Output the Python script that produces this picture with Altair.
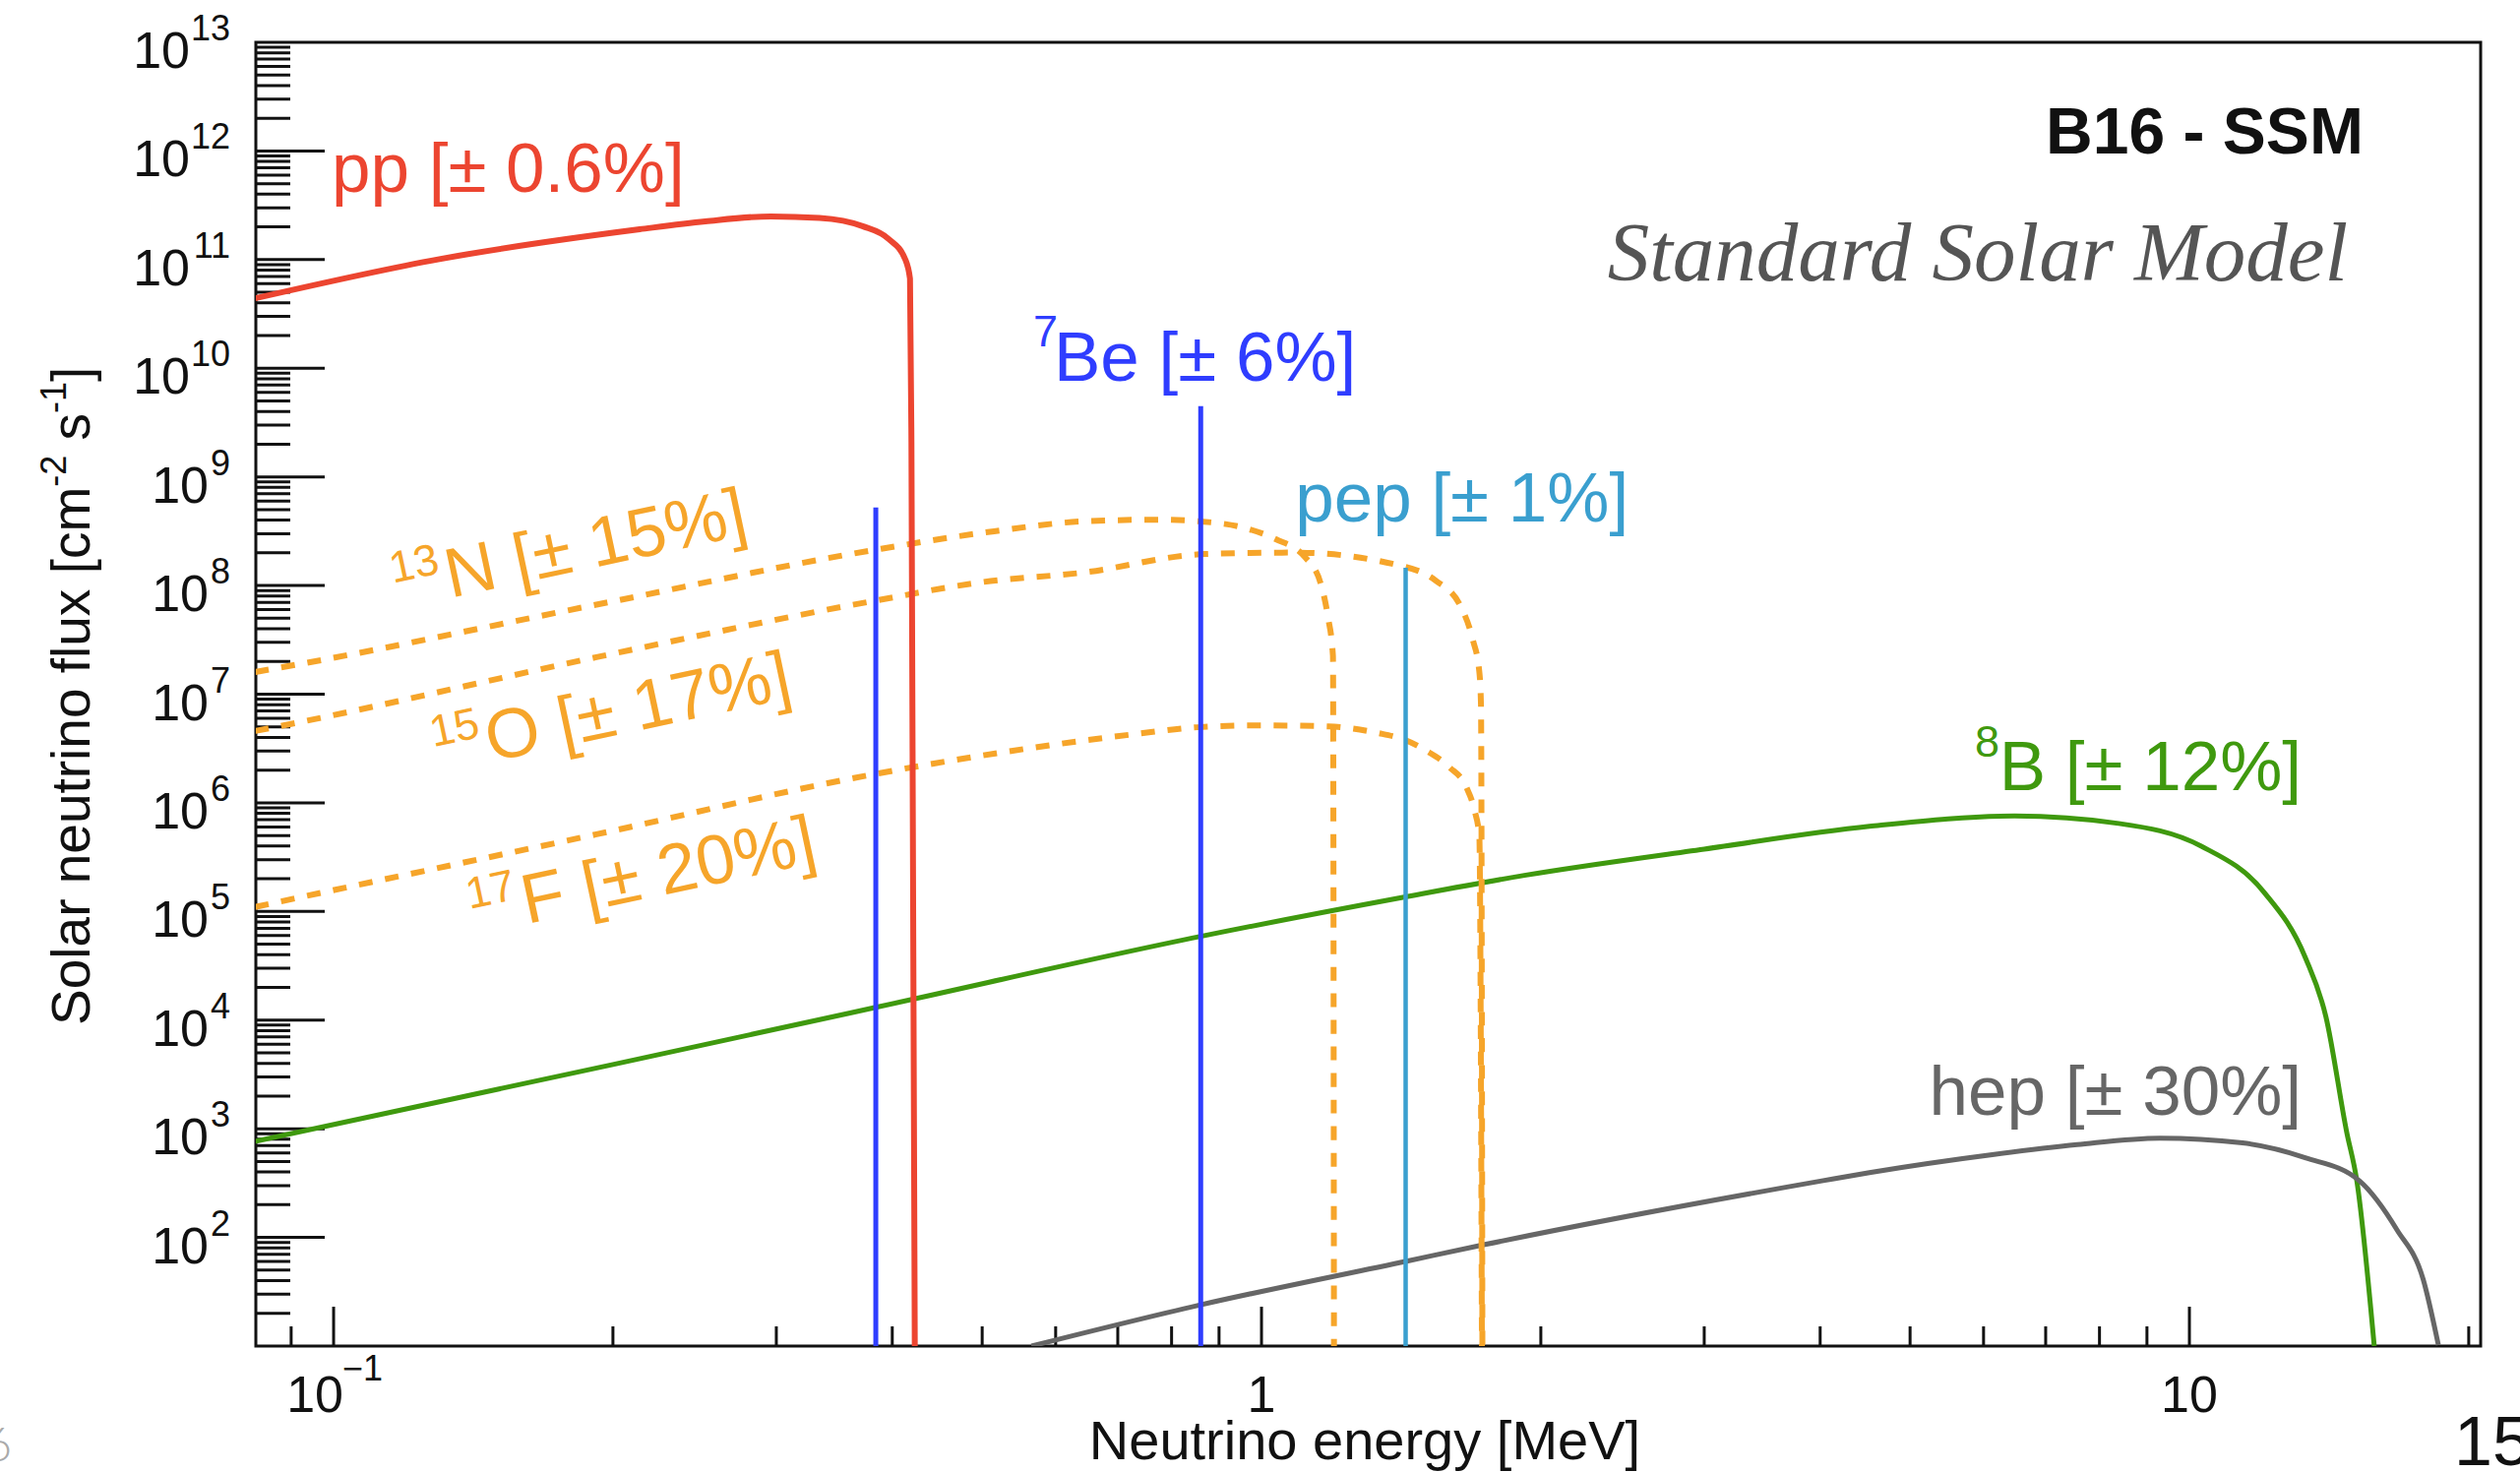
import math
import altair as alt
import pandas as pd

# ---------------- data ----------------
# pp continuum
pp_E = [0.0823, 0.130, 0.2137, 0.2515, 0.296, 0.334, 0.3716, 0.3967, 0.413, 0.418, 0.4195, 0.423]
pp_F = [4.4e10, 1.01e11, 1.90e11, 2.25e11, 2.50e11, 2.42e11, 2.03e11, 1.54e11, 1.01e11, 6.68e10, 2.07e9, 10]
# 8B continuum
b8_E = [0.0823, 0.2, 0.384, 0.86, 1.42, 1.92, 3.0, 4.52, 6.48, 8.39, 10.3, 12.03, 13.33, 14.03, 14.77, 15.15, 15.82]
b8_F = [766, 3.9e3, 1.31e4, 5.9e4, 1.35e5, 2.15e5, 3.75e5, 6.07e5, 7.57e5, 6.46e5, 3.99e5, 1.51e5, 3.78e4, 1.08e4, 944, 333, 10]
# hep continuum
hep_E = [0.565, 0.855, 1.434, 1.741, 4.03, 4.52, 6.16, 7.57, 9.29, 11.41, 13.33, 15.24, 16.74, 17.86, 18.55]
hep_F = [10, 23.7, 60.5, 86, 333, 395, 581, 714, 820, 740, 541, 333, 117, 41.3, 10.2]
# CNO continua
n13_E = [0.0823, 0.0909, 0.192, 0.383, 0.515, 0.644, 0.777, 0.857, 0.959, 1.035, 1.115, 1.158, 1.179, 1.194, 1.197]
n13_F = [1.6e7, 1.86e7, 6.67e7, 2.13e8, 3.16e8, 3.90e8, 4.04e8, 3.9e8, 3.39e8, 2.68e8, 1.81e8, 1.05e8, 5.19e7, 2.25e7, 10]
o15_E = [0.0823, 0.0909, 0.192, 0.383, 0.502, 0.644, 0.869, 1.087, 1.413, 1.541, 1.64, 1.689, 1.717, 1.724, 1.73]
o15_F = [4.58e6, 5.42e6, 2.19e7, 7.24e7, 1.08e8, 1.32e8, 1.95e8, 2.01e8, 1.52e8, 1.11e8, 6.38e7, 3.19e7, 1.6e7, 7.94e6, 10]
f17_E = [0.0823, 0.0909, 0.192, 0.383, 0.724, 0.853, 1.0, 1.181, 1.334, 1.424, 1.507, 1.595, 1.662, 1.696, 1.717, 1.728]
f17_F = [1.10e5, 1.32e5, 5.13e5, 1.84e6, 4.25e6, 4.96e6, 5.16e6, 5.05e6, 4.4e6, 3.82e6, 3.0e6, 2.12e6, 1.40e6, 8.6e5, 4.9e5, 10]
# monochromatic lines
be7_E = [0.384, 0.86]
be7_F = [5.24e8, 4.47e9]
pep_E = [1.43]
pep_F = [1.46e8]

# axis tick values
y_major = [1e2, 1e3, 1e4, 1e5, 1e6, 1e7, 1e8, 1e9, 1e10, 1e11, 1e12]
y_minor = [m * 10.0 ** k for k in range(1, 13) for m in range(2, 10)]
x_major = [0.1, 1, 10]
x_minor = [0.09, 0.2, 0.3, 0.4, 0.5, 0.6, 0.7, 0.8, 0.9, 2, 3, 4, 5, 6, 7, 8, 9, 20]
y_lab_exp = [2, 3, 4, 5, 6, 7, 8, 9, 10, 11, 12, 13]

# ---------------- layout constants ----------------
X_MIN, X_MAX = 0.08245, 20.6
Y_MIN, Y_MAX = 10.0, 1e13
W, H = 2261, 1325
PXX = W / (math.log10(X_MAX) - math.log10(X_MIN))
PXY = H / (math.log10(Y_MAX) - math.log10(Y_MIN))

xs = alt.Scale(type="log", domain=[X_MIN, X_MAX])
ys = alt.Scale(type="log", domain=[Y_MIN, Y_MAX])
FONT = "Liberation Sans"
LBL = 71  # curve label size

RED = "#ec4530"
BLUE = "#2f3dff"
CYAN = "#3a9fcf"
ORANGE = "#f6a52a"
GREEN = "#3f990e"
GRAY = "#666666"
INK = "#111111"


def xe(f="E"):
    return alt.X(f"{f}:Q", scale=xs, axis=None)


def ye(f="F"):
    return alt.Y(f"{f}:Q", scale=ys, axis=None)


def curve(E, F, color, width, dash=None):
    df = pd.DataFrame({"E": E, "F": F, "i": list(range(len(E)))})
    kw = dict(color=color, strokeWidth=width, clip=True, interpolate="monotone",
              strokeCap="butt", strokeJoin="round")
    if dash:
        kw["strokeDash"] = dash
    return alt.Chart(df).mark_line(**kw).encode(x=xe(), y=ye(), order="i:Q")


def vlines(E, F, color, width):
    df = pd.DataFrame({"E": E, "F": F, "F0": [Y_MIN] * len(E)})
    return alt.Chart(df).mark_rule(color=color, strokeWidth=width, strokeCap="butt").encode(
        x=xe(), y=ye(), y2=alt.Y2("F0:Q"))


def text(E, F, t, color=INK, size=LBL, align="left", dx=0, dy=0, angle=0,
         font=FONT, weight="normal", style="normal", baseline="alphabetic"):
    df = pd.DataFrame({"E": E if isinstance(E, list) else [E],
                       "F": F if isinstance(F, list) else [F],
                       "t": t if isinstance(t, list) else [t]})
    kw = dict(align=align, baseline=baseline, font=font, fontSize=size, color=color,
              fontWeight=weight, fontStyle=style)
    if dx:
        kw["dx"] = dx
    if dy:
        kw["dy"] = dy
    if angle:
        kw["angle"] = angle
    return alt.Chart(df).mark_text(**kw).encode(x=xe(), y=ye(), text="t:N")


def yticks(vals, length):
    df = pd.DataFrame({"E": [X_MIN] * len(vals), "E2": [X_MIN * 10 ** (length / PXX)] * len(vals), "F": vals})
    return alt.Chart(df).mark_rule(color=INK, strokeWidth=3).encode(x=xe(), x2=alt.X2("E2:Q"), y=ye())


def xticks(vals, length):
    df = pd.DataFrame({"E": vals, "F": [Y_MIN] * len(vals), "F2": [Y_MIN * 10 ** (length / PXY)] * len(vals)})
    return alt.Chart(df).mark_rule(color=INK, strokeWidth=3).encode(x=xe(), y=ye(), y2=alt.Y2("F2:Q"))


layers = []
# ticks
layers += [yticks(y_major, 70), yticks(y_minor, 35), xticks(x_major, 40), xticks(x_minor, 20)]

# y tick labels
two = [k for k in y_lab_exp if k >= 10]
one = [k for k in y_lab_exp if k < 10]
layers.append(text([X_MIN] * len(two), [10.0 ** k for k in two], ["10"] * len(two), size=52, align="right", dx=-67, dy=26))
layers.append(text([X_MIN] * len(one), [10.0 ** k for k in one], ["10"] * len(one), size=52, align="right", dx=-48, dy=26))
layers.append(text([X_MIN] * len(y_lab_exp), [10.0 ** k for k in y_lab_exp], [str(k) for k in y_lab_exp],
                   size=36, align="right", dx=-26, dy=-2))
# x tick labels
layers.append(text(0.1, Y_MIN, "10", size=52, align="right", dx=10, dy=67))
layers.append(text(0.1, Y_MIN, "\u22121", size=36, align="left", dx=9, dy=35))
layers.append(text([1, 10], [Y_MIN, Y_MIN], ["1", "10"], size=52, align="center", dy=67))

# axis titles
layers.append(text(1.292, Y_MIN, "Neutrino energy [MeV]", size=56, align="center", dy=115))
YT_E, YT_F = 0.0546, 8976
layers.append(text(YT_E, YT_F, "Solar neutrino flux [cm", size=55, angle=270))
layers.append(text(YT_E, YT_F, "-2", size=36, angle=270, dx=547.1, dy=-24))
layers.append(text(YT_E, YT_F, "s", size=55, angle=270, dx=594.4))
layers.append(text(YT_E, YT_F, "-1", size=36, angle=270, dx=621.9, dy=-24))
layers.append(text(YT_E, YT_F, "]", size=55, angle=270, dx=653.9))

# curves
layers += [
    curve(b8_E, b8_F, GREEN, 5),
    curve(hep_E, hep_F, GRAY, 5),
    curve(n13_E, n13_F, ORANGE, 6, [14, 13]),
    curve(o15_E, o15_F, ORANGE, 6, [14, 13]),
    curve(f17_E, f17_F, ORANGE, 6, [14, 13]),
    vlines(be7_E, be7_F, BLUE, 5),
    vlines(pep_E, pep_F, CYAN, 4.5),
    curve(pp_E, pp_F, RED, 6),
]

# curve labels
RIGHT_E = 13.21   # common right edge of the 8B and hep labels
layers.append(text(0.0995, 4.22e11, "pp [\u00b1 0.6%]", color=RED))
layers.append(text(0.5973, 7.69e9, "Be [\u00b1 6%]", color=BLUE))
layers.append(text(0.5973, 7.69e9, "7", color=BLUE, size=45, align="right", dx=4, dy=-35))
layers.append(text(1.087, 3.9e8, "pep [\u00b1 1%]", color=CYAN))
layers.append(text(RIGHT_E, 1.31e6, "B [\u00b1 12%]", color=GREEN, align="right"))
layers.append(text(RIGHT_E, 1.31e6, "8", color=GREEN, size=45, align="right", dx=-307, dy=-34))
layers.append(text(RIGHT_E, 1345, "hep [\u00b1 30%]", color=GRAY, align="right"))
for e, f, main, sup in [(0.1336, 7.67e7, "N [\u00b1 15%]", "13"),
                        (0.1477, 2.38e6, "O [\u00b1 17%]", "15"),
                        (0.1616, 7.67e4, "F [\u00b1 20%]", "17")]:
    layers.append(text(e, f, main, color=ORANGE, angle=348))
    layers.append(text(e, f, sup, color=ORANGE, size=45, align="right", angle=348, dx=-4, dy=-27))

layers.append(text(15.4, 9.5e11, "B16 - SSM", size=66, align="right", weight="bold"))
layers.append(text(14.82, 6.46e10, "Standard Solar Model", size=85, align="right",
                   font="Liberation Serif", style="italic", color="#555555"))

# slide page numbers
layers.append(text(0.045, 0.871, "6", size=48, align="right", color="#aaaaaa", font="Lato", weight=300))
layers.append(text(19.29, 0.80, "15", size=70, align="left", color=INK))

chart = alt.layer(*layers).properties(
    width=W, height=H,
    autosize=alt.AutoSizeParams(type="none"),
    padding={"left": 260, "top": 43, "right": 40, "bottom": 128},
    background="white",
).configure_view(stroke=INK, strokeWidth=3)

chart.save("out.html", embed_options={"renderer": "svg", "actions": False})
